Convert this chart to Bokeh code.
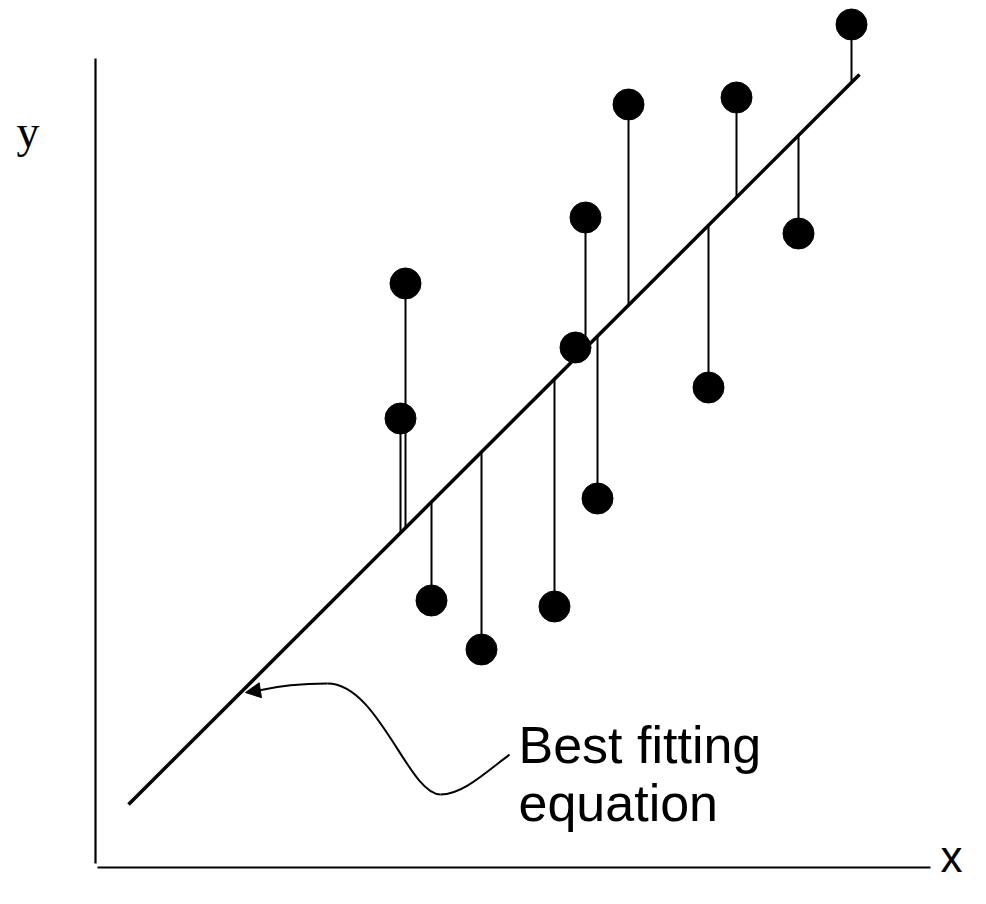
from bokeh.plotting import figure
from bokeh.models import Range1d, Arrow, NormalHead, ColumnDataSource
from bokeh.core.properties import value
from bokeh.embed import file_html
from bokeh.resources import INLINE

# Observations (schematic units; y measured upward)
obs_x = [405, 400, 431, 481, 554, 575, 597, 585, 628, 708, 736, 798, 851]
obs_y = [621, 486, 304, 255, 298, 557, 406, 687, 800, 517, 807, 671, 880]

# Best fitting line (two end points)
fit_x = [128, 859]
fit_y = [100, 830]

slope = (fit_y[1] - fit_y[0]) / (fit_x[1] - fit_x[0])
fit_at = [fit_y[0] + slope * (x - fit_x[0]) for x in obs_x]

W, H = 970, 888
p = figure(width=W, height=H, output_backend="svg", toolbar_location=None,
           x_range=Range1d(0, W), y_range=Range1d(904 - H, 904),
           min_border=0, border_fill_color="white", outline_line_color=None)
p.axis.visible = False
p.grid.visible = False

# axes (drawn as plain lines)
p.segment(x0=[95, 97], y0=[846, 37], x1=[95, 930], y1=[41, 37],
          line_color="black", line_width=2.2)

# residuals
src = ColumnDataSource(dict(x=obs_x, y=obs_y, f=fit_at))
p.segment(x0="x", y0="y", x1="x", y1="f", source=src,
          line_color="black", line_width=2)

# fit line
p.line(fit_x, fit_y, line_color="black", line_width=3.5)

# points
p.scatter("x", "y", source=src, size=31, fill_color="black", line_color="black")

# curved pointer
def Y(py):
    return 904 - py

p.bezier(x0=[509, 440, 327], y0=[Y(754), Y(794), Y(683)],
         x1=[440, 327, 258], y1=[Y(794), Y(683), Y(690)],
         cx0=[485, 408, 300], cy0=[Y(772), Y(794), Y(683)],
         cx1=[462, 378, 275], cy1=[Y(794), Y(683), Y(686)],
         line_color="black", line_width=2)
p.add_layout(Arrow(x_start=258, y_start=Y(690), x_end=245, y_end=Y(692),
                   line_color="black", line_width=2,
                   end=NormalHead(size=15, fill_color="black", line_color="black")))

# texts
p.text(x=[518, 518], y=[Y(744), Y(802)], text=["Best fitting", "equation"],
       text_font=value("Liberation Sans"), text_font_size="52px",
       text_baseline="alphabetic", text_align="left", text_color="black")
p.text(x=[16], y=[Y(131)], text=["y"], text_font=value("Liberation Serif"),
       text_font_size="46px", text_baseline="alphabetic", text_color="black")
p.text(x=[940], y=[Y(856)], text=["x"], text_font=value("Liberation Sans"),
       text_font_size="44px", text_baseline="alphabetic", text_color="black")

open("out.html", "w").write(file_html(p, INLINE))
